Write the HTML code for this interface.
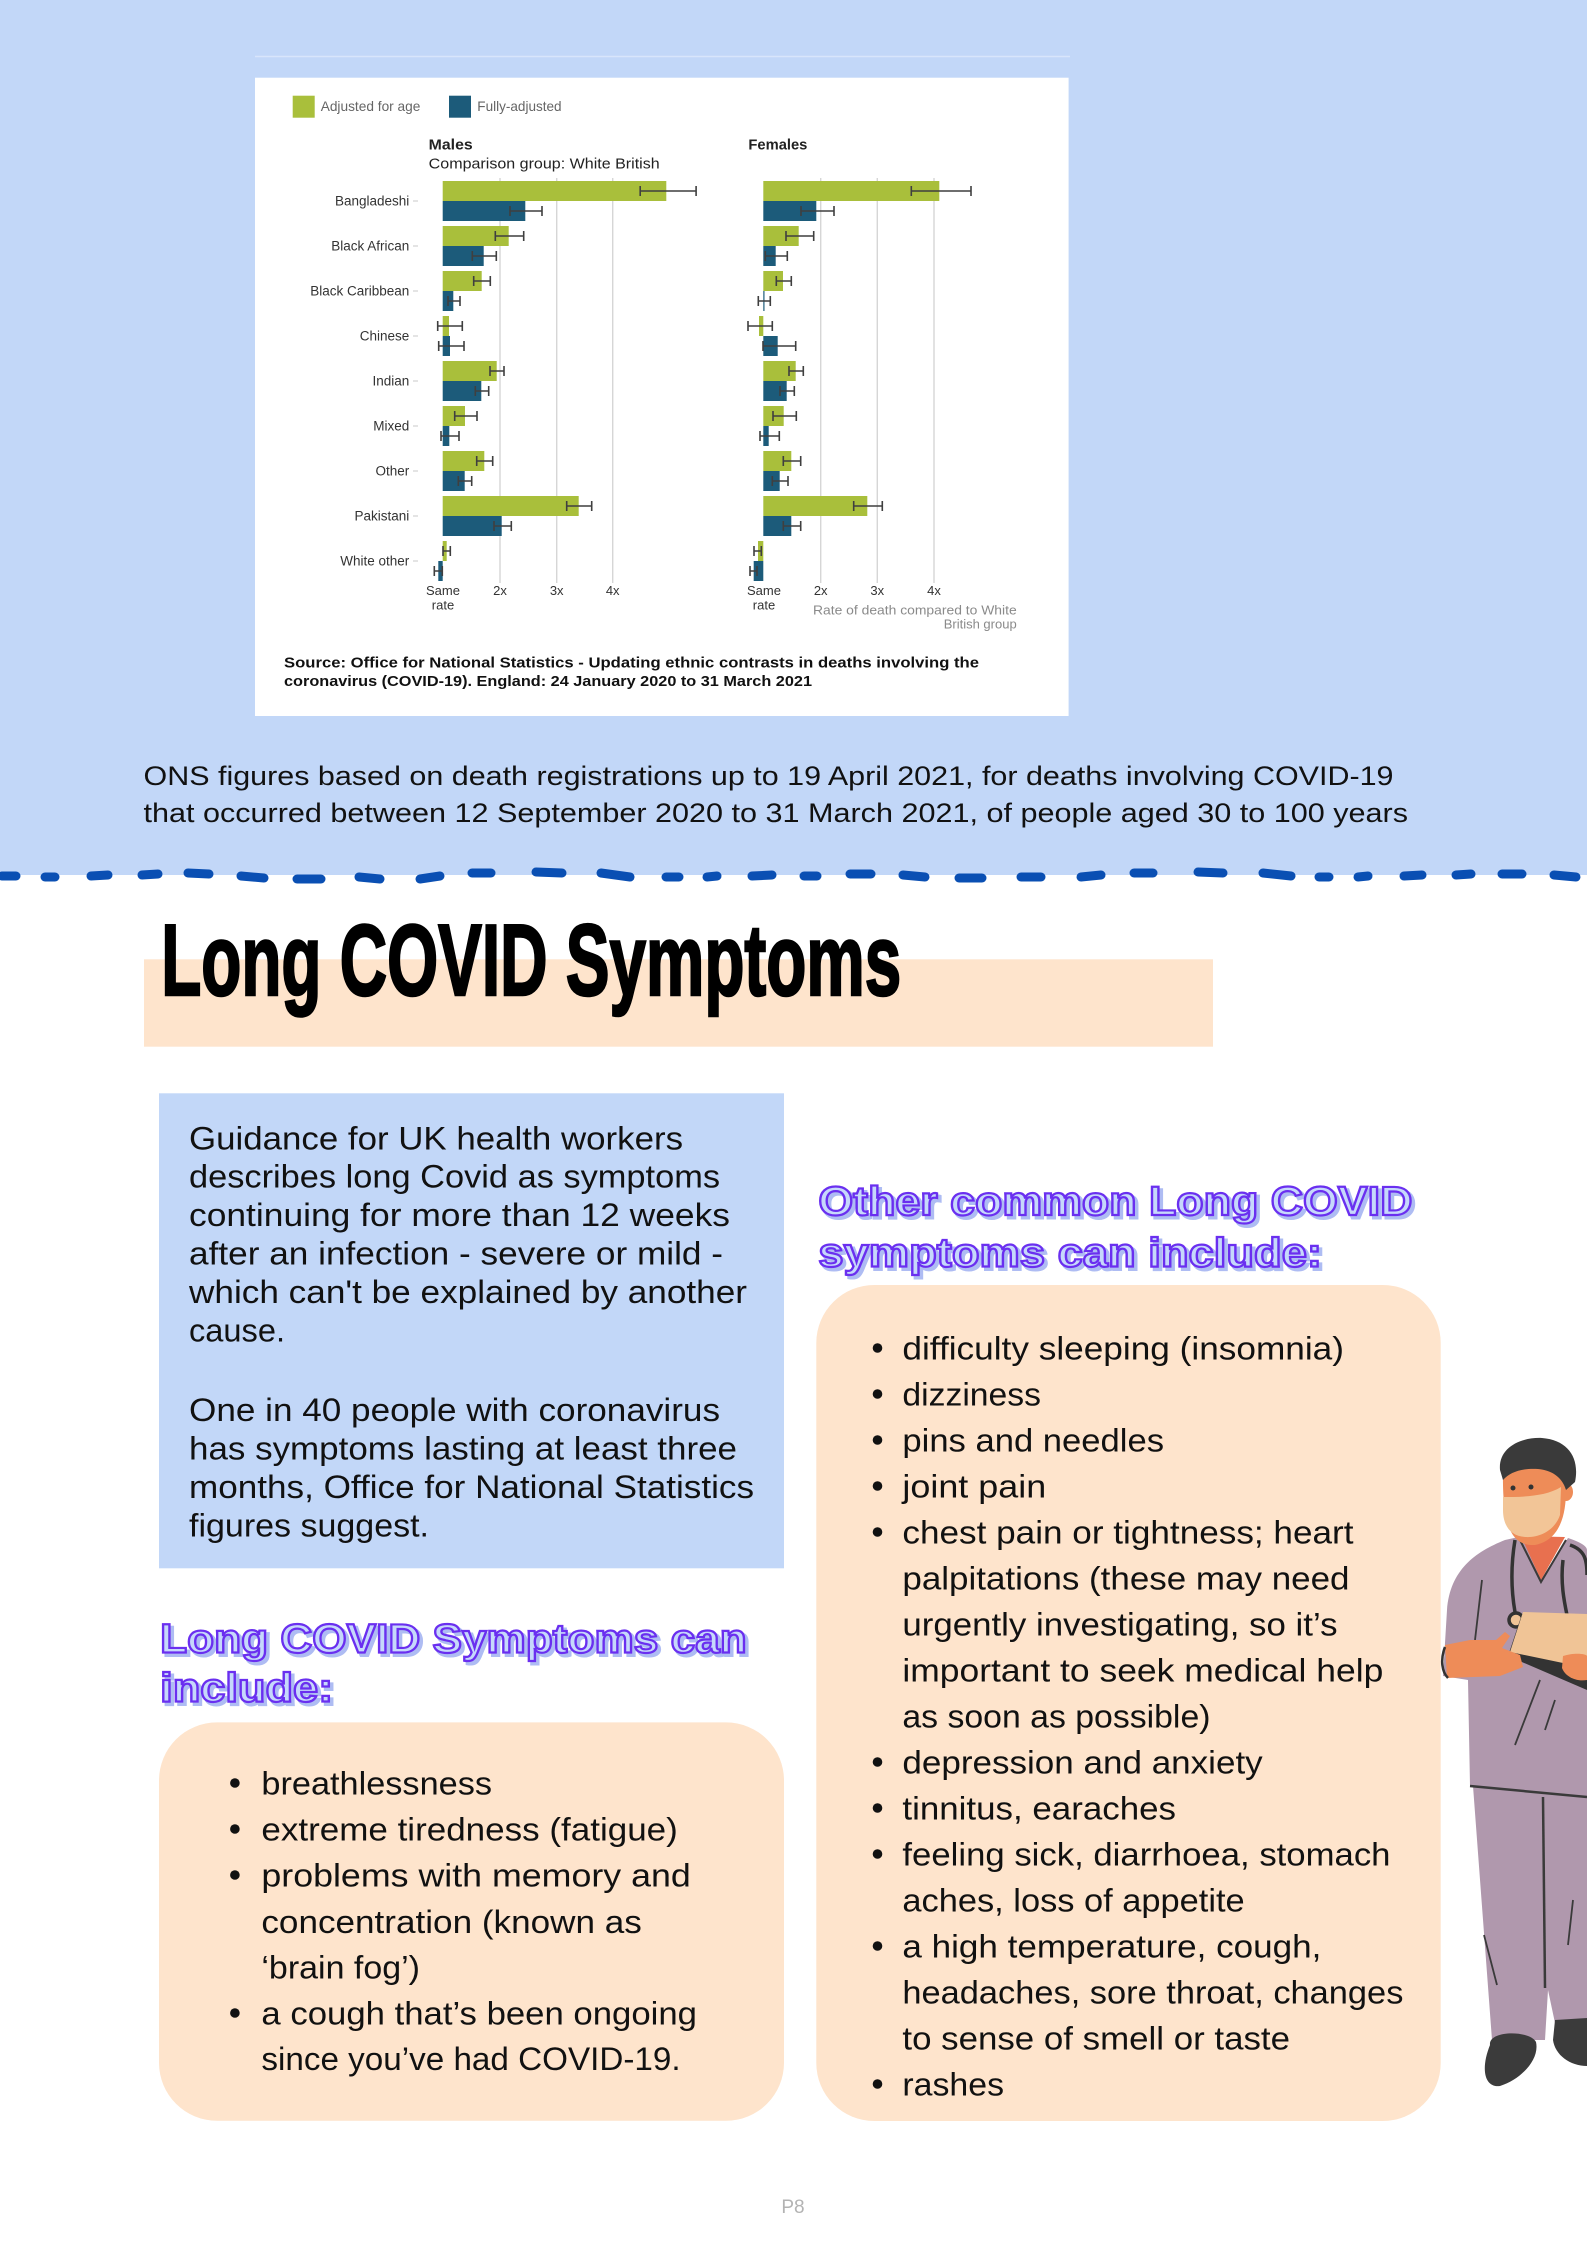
<!DOCTYPE html>
<html><head><meta charset="utf-8"><style>
html,body{margin:0;padding:0;background:#fff;}
svg{display:block;}
text{font-family:"Liberation Sans",sans-serif;}
</style></head><body>
<svg width="1587" height="2245" viewBox="0 0 1587 2245" xmlns="http://www.w3.org/2000/svg">
<!-- top blue area -->
<rect x="0" y="0" width="1587" height="875" fill="#c2d7f8"/>
<line x1="255" y1="56.5" x2="1070" y2="56.5" stroke="#d8e5fb" stroke-width="1.5"/>
<rect x="255" y="77.7" width="813.6" height="638.3" fill="#fff"/>

<!-- legend -->
<rect x="292.7" y="95.7" width="22" height="22" fill="#a9bf3b"/>
<text x="320.7" y="111" font-size="14" fill="#666" textLength="99.7" lengthAdjust="spacingAndGlyphs">Adjusted for age</text>
<rect x="449" y="95.7" width="22" height="22" fill="#1c5b7a"/>
<text x="477.3" y="111" font-size="14" fill="#666" textLength="84.3" lengthAdjust="spacingAndGlyphs">Fully-adjusted</text>

<text x="428.7" y="149.3" font-size="15" font-weight="bold" fill="#222" textLength="44" lengthAdjust="spacingAndGlyphs">Males</text>
<text x="428.7" y="168.3" font-size="15" fill="#222" textLength="231" lengthAdjust="spacingAndGlyphs">Comparison group: White British</text>
<text x="748.4" y="149.3" font-size="15" font-weight="bold" fill="#222" textLength="59" lengthAdjust="spacingAndGlyphs">Females</text>

<!-- gridlines -->
<g stroke="#d6d6d6" stroke-width="1.4">
<line x1="500" y1="178" x2="500" y2="583"/><line x1="556.7" y1="178" x2="556.7" y2="583"/><line x1="612.7" y1="178" x2="612.7" y2="583"/>
<line x1="820.7" y1="178" x2="820.7" y2="583"/><line x1="877.3" y1="178" x2="877.3" y2="583"/><line x1="934" y1="178" x2="934" y2="583"/>
</g>

<!-- category labels -->
<g font-size="13.5" fill="#333" text-anchor="end">
<text x="409.3" y="205.7">Bangladeshi</text>
<text x="409.3" y="250.7">Black African</text>
<text x="409.3" y="295.7">Black Caribbean</text>
<text x="409.3" y="340.7">Chinese</text>
<text x="409.3" y="385.7">Indian</text>
<text x="409.3" y="430.7">Mixed</text>
<text x="409.3" y="475.7">Other</text>
<text x="409.3" y="520.7">Pakistani</text>
<text x="409.3" y="565.7">White other</text>
</g>
<g stroke="#c8c8c8" stroke-width="1">
<line x1="413" y1="201" x2="418" y2="201"/><line x1="413" y1="246" x2="418" y2="246"/><line x1="413" y1="291" x2="418" y2="291"/>
<line x1="413" y1="336" x2="418" y2="336"/><line x1="413" y1="381" x2="418" y2="381"/><line x1="413" y1="426" x2="418" y2="426"/>
<line x1="413" y1="471" x2="418" y2="471"/><line x1="413" y1="516" x2="418" y2="516"/><line x1="413" y1="561" x2="418" y2="561"/>
</g>

<!-- male bars -->
<g fill="#a9bf3b">
<rect x="442.7" y="181" width="223.6" height="20"/>
<rect x="442.7" y="226" width="66" height="20"/>
<rect x="442.7" y="271" width="39" height="20"/>
<rect x="442.7" y="316" width="6.3" height="20"/>
<rect x="442.7" y="361" width="54" height="20"/>
<rect x="442.7" y="406" width="22.3" height="20"/>
<rect x="442.7" y="451" width="41.6" height="20"/>
<rect x="442.7" y="496" width="136" height="20"/>
<rect x="442.7" y="541" width="4" height="20"/>
</g>
<g fill="#1c5b7a">
<rect x="442.7" y="201" width="82.6" height="20"/>
<rect x="442.7" y="246" width="41" height="20"/>
<rect x="442.7" y="291" width="10.6" height="20"/>
<rect x="442.7" y="336" width="7.3" height="20"/>
<rect x="442.7" y="381" width="38.6" height="20"/>
<rect x="442.7" y="426" width="6.6" height="20"/>
<rect x="442.7" y="471" width="22" height="20"/>
<rect x="442.7" y="516" width="59" height="20"/>
<rect x="438.3" y="561" width="4.4" height="20"/>
</g>
<!-- female bars -->
<g fill="#a9bf3b">
<rect x="763.3" y="181" width="176" height="20"/>
<rect x="763.3" y="226" width="35.4" height="20"/>
<rect x="763.3" y="271" width="19.7" height="20"/>
<rect x="759" y="316" width="4.3" height="20"/>
<rect x="763.3" y="361" width="32.4" height="20"/>
<rect x="763.3" y="406" width="20.4" height="20"/>
<rect x="763.3" y="451" width="28" height="20"/>
<rect x="763.3" y="496" width="104" height="20"/>
<rect x="758" y="541" width="5.3" height="20"/>
</g>
<g fill="#1c5b7a">
<rect x="763.3" y="201" width="53" height="20"/>
<rect x="763.3" y="246" width="12.4" height="20"/>
<rect x="763.3" y="291" width="1.2" height="20"/>
<rect x="763.3" y="336" width="14.4" height="20"/>
<rect x="763.3" y="381" width="23.4" height="20"/>
<rect x="763.3" y="426" width="5.4" height="20"/>
<rect x="763.3" y="471" width="16.4" height="20"/>
<rect x="763.3" y="516" width="28" height="20"/>
<rect x="753.7" y="561" width="9.6" height="20"/>
</g>

<!-- error bars -->
<g stroke="#3f3f3f" stroke-width="1.6" fill="none">
<path d="M640.2 191H696.1M640.2 186V196M696.1 186V196"/>
<path d="M510 211H542M510 206V216M542 206V216"/>
<path d="M495.3 236H523.7M495.3 231V241M523.7 231V241"/>
<path d="M472.3 256H496.3M472.3 251V261M496.3 251V261"/>
<path d="M473.7 281H490.3M473.7 276V286M490.3 276V286"/>
<path d="M448 301H460M448 296V306M460 296V306"/>
<path d="M437.7 326H462.3M437.7 321V331M462.3 321V331"/>
<path d="M438.7 346H464M438.7 341V351M464 341V351"/>
<path d="M490 371H504M490 366V376M504 366V376"/>
<path d="M475.3 391H488.7M475.3 386V396M488.7 386V396"/>
<path d="M454.7 416H477M454.7 411V421M477 411V421"/>
<path d="M441 436H459M441 431V441M459 431V441"/>
<path d="M476.7 461H492.7M476.7 456V466M492.7 456V466"/>
<path d="M458.3 481H471.7M458.3 476V486M471.7 476V486"/>
<path d="M566.7 506H591.7M566.7 501V511M591.7 501V511"/>
<path d="M494 526H511.3M494 521V531M511.3 521V531"/>
<path d="M443 551H450.3M443 546V556M450.3 546V556"/>
<path d="M434.3 571H442.3M434.3 566V576M442.3 566V576"/>

<path d="M911.3 191H971M911.3 186V196M971 186V196"/>
<path d="M801 211H834M801 206V216M834 206V216"/>
<path d="M786 236H813.7M786 231V241M813.7 231V241"/>
<path d="M765.3 256H787.3M765.3 251V261M787.3 251V261"/>
<path d="M776.3 281H791.3M776.3 276V286M791.3 276V286"/>
<path d="M758.3 301H770.3M758.3 296V306M770.3 296V306"/>
<path d="M748 326H772.3M748 321V331M772.3 321V331"/>
<path d="M763 346H795.7M763 341V351M795.7 341V351"/>
<path d="M789 371H803.3M789 366V376M803.3 366V376"/>
<path d="M780 391H794.3M780 386V396M794.3 386V396"/>
<path d="M773 416H796.3M773 411V421M796.3 411V421"/>
<path d="M760 436H779.3M760 431V441M779.3 431V441"/>
<path d="M783.3 461H800.7M783.3 456V466M800.7 456V466"/>
<path d="M772.3 481H788M772.3 476V486M788 476V486"/>
<path d="M853.7 506H882.3M853.7 501V511M882.3 501V511"/>
<path d="M783.3 526H800.7M783.3 521V531M800.7 521V531"/>
<path d="M754 551H761.3M754 546V556M761.3 546V556"/>
<path d="M750 571H757M750 566V576M757 566V576"/>
</g>

<!-- axis tick labels -->
<g font-size="13" fill="#333" text-anchor="middle">
<text x="443" y="595">Same</text><text x="443" y="609.5">rate</text>
<text x="500" y="595">2x</text><text x="556.7" y="595">3x</text><text x="612.7" y="595">4x</text>
<text x="764" y="595">Same</text><text x="764" y="609.5">rate</text>
<text x="820.7" y="595">2x</text><text x="877.3" y="595">3x</text><text x="934" y="595">4x</text>
</g>
<text x="1016.7" y="614.3" font-size="13" fill="#8a8a8a" text-anchor="end" textLength="203.7" lengthAdjust="spacingAndGlyphs">Rate of death compared to White</text>
<text x="1016.7" y="628.5" font-size="13" fill="#8a8a8a" text-anchor="end">British group</text>

<text x="284" y="667.3" font-size="14.5" font-weight="bold" fill="#111" textLength="695" lengthAdjust="spacingAndGlyphs">Source: Office for National Statistics - Updating ethnic contrasts in deaths involving the</text>
<text x="284" y="686" font-size="14.5" font-weight="bold" fill="#111" textLength="528" lengthAdjust="spacingAndGlyphs">coronavirus (COVID-19). England: 24 January 2020 to 31 March 2021</text>

<!-- ONS text -->
<text x="143.5" y="785" font-size="27" fill="#111" textLength="1250" lengthAdjust="spacingAndGlyphs">ONS figures based on death registrations up to 19 April 2021, for deaths involving COVID-19</text>
<text x="143.5" y="822" font-size="27" fill="#111" textLength="1264.5" lengthAdjust="spacingAndGlyphs">that occurred between 12 September 2020 to 31 March 2021, of people aged 30 to 100 years</text>

<!-- dashed divider -->
<g stroke="#0a4fb3" stroke-width="9" stroke-linecap="round">
<line x1="2" y1="876" x2="16" y2="876"/><line x1="45" y1="877" x2="55" y2="877"/><line x1="91" y1="876" x2="108" y2="875"/>
<line x1="142" y1="875" x2="158" y2="874"/><line x1="188" y1="873" x2="209" y2="874"/><line x1="241" y1="876" x2="264" y2="878"/>
<line x1="297" y1="879" x2="321" y2="879"/><line x1="359" y1="877" x2="380" y2="879"/><line x1="420" y1="879" x2="440" y2="876"/>
<line x1="472" y1="873" x2="491" y2="873"/><line x1="536" y1="872" x2="562" y2="873"/><line x1="601" y1="873" x2="630" y2="877"/>
<line x1="666" y1="877" x2="679" y2="877"/><line x1="707" y1="877" x2="717" y2="876"/><line x1="752" y1="876" x2="772" y2="875"/>
<line x1="804" y1="876" x2="817" y2="876"/><line x1="850" y1="874" x2="871" y2="874"/><line x1="903" y1="875" x2="925" y2="877"/>
<line x1="959" y1="878" x2="982" y2="878"/><line x1="1021" y1="877" x2="1041" y2="877"/><line x1="1081" y1="877" x2="1101" y2="875"/>
<line x1="1134" y1="873" x2="1153" y2="873"/><line x1="1198" y1="872" x2="1223" y2="873"/><line x1="1263" y1="873" x2="1291" y2="876"/>
<line x1="1319" y1="877" x2="1329" y2="877"/><line x1="1358" y1="877" x2="1368" y2="876"/><line x1="1404" y1="876" x2="1422" y2="875"/>
<line x1="1456" y1="875" x2="1471" y2="874"/><line x1="1502" y1="874" x2="1522" y2="874"/><line x1="1554" y1="875" x2="1576" y2="877"/>
</g>

<!-- main heading -->
<rect x="144" y="959.3" width="1069" height="87.4" fill="#fee4cc"/>
<text x="161.2" y="995" font-size="101" font-weight="bold" fill="#000" stroke="#000" stroke-width="2.5" style='font-family:"Liberation Sans Narrow","Liberation Sans",sans-serif' textLength="740" lengthAdjust="spacingAndGlyphs">Long COVID Symptoms</text>

<!-- blue guidance box -->
<rect x="159" y="1093.3" width="625" height="475" fill="#c2d7f8"/>
<g font-size="32" fill="#111">
<text x="189" y="1149.3" textLength="494" lengthAdjust="spacingAndGlyphs">Guidance for UK health workers</text>
<text x="189" y="1187.7" textLength="531" lengthAdjust="spacingAndGlyphs">describes long Covid as symptoms</text>
<text x="189" y="1226" textLength="541" lengthAdjust="spacingAndGlyphs">continuing for more than 12 weeks</text>
<text x="189" y="1264.5" textLength="534" lengthAdjust="spacingAndGlyphs">after an infection - severe or mild -</text>
<text x="189" y="1303" textLength="558" lengthAdjust="spacingAndGlyphs">which can't be explained by another</text>
<text x="189" y="1341.3" textLength="96" lengthAdjust="spacingAndGlyphs">cause.</text>
<text x="189" y="1421" textLength="531" lengthAdjust="spacingAndGlyphs">One in 40 people with coronavirus</text>
<text x="189" y="1459.5" textLength="548" lengthAdjust="spacingAndGlyphs">has symptoms lasting at least three</text>
<text x="189" y="1498" textLength="565" lengthAdjust="spacingAndGlyphs">months, Office for National Statistics</text>
<text x="189" y="1536.5" textLength="240" lengthAdjust="spacingAndGlyphs">figures suggest.</text>
</g>

<!-- purple headings -->
<g font-size="41" font-weight="bold" fill="#aebcf3" stroke="#aebcf3" stroke-width="3" transform="translate(3,3)">
<text x="818.4" y="1215" textLength="594" lengthAdjust="spacingAndGlyphs">Other common Long COVID</text>
<text x="818.4" y="1266.7" textLength="503.6" lengthAdjust="spacingAndGlyphs">symptoms can include:</text>
<text x="160.2" y="1652.4" textLength="586.5" lengthAdjust="spacingAndGlyphs">Long COVID Symptoms can</text>
<text x="160.2" y="1701.4" textLength="173" lengthAdjust="spacingAndGlyphs">include:</text>
</g>
<g font-size="41" font-weight="bold" fill="#c6d8fb" stroke="#6a2ff0" stroke-width="2.2">
<text x="818.4" y="1215" textLength="594" lengthAdjust="spacingAndGlyphs">Other common Long COVID</text>
<text x="818.4" y="1266.7" textLength="503.6" lengthAdjust="spacingAndGlyphs">symptoms can include:</text>
<text x="160.2" y="1652.4" textLength="586.5" lengthAdjust="spacingAndGlyphs">Long COVID Symptoms can</text>
<text x="160.2" y="1701.4" textLength="173" lengthAdjust="spacingAndGlyphs">include:</text>
</g>

<!-- peach boxes -->
<rect x="816.3" y="1285" width="624.4" height="836" rx="58" ry="58" fill="#fee4cc"/>
<rect x="159" y="1722.4" width="625" height="398.4" rx="58" ry="58" fill="#fee4cc"/>

<!-- right list -->
<g fill="#111">
<circle cx="877.5" cy="1348" r="4.8"/><circle cx="877.5" cy="1394" r="4.8"/><circle cx="877.5" cy="1440" r="4.8"/>
<circle cx="877.5" cy="1486" r="4.8"/><circle cx="877.5" cy="1532" r="4.8"/><circle cx="877.5" cy="1762" r="4.8"/>
<circle cx="877.5" cy="1808" r="4.8"/><circle cx="877.5" cy="1854" r="4.8"/><circle cx="877.5" cy="1946" r="4.8"/>
<circle cx="877.5" cy="2084" r="4.8"/>
<circle cx="234.9" cy="1783" r="4.8"/><circle cx="234.9" cy="1829" r="4.8"/><circle cx="234.9" cy="1875" r="4.8"/>
<circle cx="234.9" cy="2013" r="4.8"/>
</g>
<g font-size="32" fill="#111">
<text x="902.4" y="1359.3" textLength="441.6" lengthAdjust="spacingAndGlyphs">difficulty sleeping (insomnia)</text>
<text x="902.4" y="1405.3" textLength="138.6" lengthAdjust="spacingAndGlyphs">dizziness</text>
<text x="902.4" y="1451.3" textLength="261.6" lengthAdjust="spacingAndGlyphs">pins and needles</text>
<text x="902.4" y="1497.3" textLength="143.8" lengthAdjust="spacingAndGlyphs">joint pain</text>
<text x="902.4" y="1543.3" textLength="451.1" lengthAdjust="spacingAndGlyphs">chest pain or tightness; heart</text>
<text x="902.4" y="1589.3" textLength="447.1" lengthAdjust="spacingAndGlyphs">palpitations (these may need</text>
<text x="902.4" y="1635.3" textLength="435.1" lengthAdjust="spacingAndGlyphs">urgently investigating, so it’s</text>
<text x="902.4" y="1681.3" textLength="480.9" lengthAdjust="spacingAndGlyphs">important to seek medical help</text>
<text x="902.4" y="1727.3" textLength="308.1" lengthAdjust="spacingAndGlyphs">as soon as possible)</text>
<text x="902.4" y="1773.3" textLength="360.3" lengthAdjust="spacingAndGlyphs">depression and anxiety</text>
<text x="902.4" y="1819.3" textLength="273.6" lengthAdjust="spacingAndGlyphs">tinnitus, earaches</text>
<text x="902.4" y="1865.3" textLength="488.1" lengthAdjust="spacingAndGlyphs">feeling sick, diarrhoea, stomach</text>
<text x="902.4" y="1911.3" textLength="342.3" lengthAdjust="spacingAndGlyphs">aches, loss of appetite</text>
<text x="902.4" y="1957.3" textLength="419" lengthAdjust="spacingAndGlyphs">a high temperature, cough,</text>
<text x="902.4" y="2003.3" textLength="501" lengthAdjust="spacingAndGlyphs">headaches, sore throat, changes</text>
<text x="902.4" y="2049.3" textLength="387.6" lengthAdjust="spacingAndGlyphs">to sense of smell or taste</text>
<text x="902.4" y="2095.3" textLength="101.6" lengthAdjust="spacingAndGlyphs">rashes</text>
</g>
<!-- left list -->
<g font-size="32" fill="#111">
<text x="261.4" y="1794.4" textLength="230.6" lengthAdjust="spacingAndGlyphs">breathlessness</text>
<text x="261.4" y="1840.7" textLength="416.4" lengthAdjust="spacingAndGlyphs">extreme tiredness (fatigue)</text>
<text x="261.4" y="1886.7" textLength="429.4" lengthAdjust="spacingAndGlyphs">problems with memory and</text>
<text x="261.4" y="1933" textLength="380.4" lengthAdjust="spacingAndGlyphs">concentration (known as</text>
<text x="261.4" y="1978.6" textLength="158.6" lengthAdjust="spacingAndGlyphs">‘brain fog’)</text>
<text x="261.4" y="2024.3" textLength="435.6" lengthAdjust="spacingAndGlyphs">a cough that’s been ongoing</text>
<text x="261.4" y="2070" textLength="419.2" lengthAdjust="spacingAndGlyphs">since you’ve had COVID-19.</text>
</g>

<!-- nurse illustration -->
<g>
<!-- pants -->
<path d="M1473 1786 L1587 1797 L1587 2023 L1555 2023 L1548 1990 L1545 2040 L1492 2040 Z" fill="#b098ad"/>
<path d="M1543 1797 L1545 1988" stroke="#3a3a3a" stroke-width="2.5" fill="none"/>
<path d="M1484 1935 L1497 1985 M1573 1900 L1568 1945" stroke="#3a3a3a" stroke-width="1.8" fill="none"/>
<!-- shoes -->
<path d="M1490 2045 C1488 2030 1530 2030 1536 2042 C1540 2060 1520 2080 1500 2086 C1485 2088 1480 2070 1490 2045 Z" fill="#3b3b3b"/>
<path d="M1555 2020 L1587 2018 L1587 2066 C1570 2066 1555 2055 1553 2040 Z" fill="#3b3b3b"/>
<!-- shirt -->
<path d="M1443 1676 L1447 1610 C1450 1570 1475 1552 1505 1540 L1523 1536 L1541 1579 L1568 1538 C1580 1542 1587 1546 1587 1550 L1587 1797 L1470 1786 L1468 1680 Z" fill="#b098ad"/>
<path d="M1470 1786 L1587 1797" stroke="#3a3a3a" stroke-width="2.5" fill="none"/>
<path d="M1482 1580 L1475 1640 M1540 1680 L1515 1745 M1555 1700 L1545 1730" stroke="#3a3a3a" stroke-width="1.8" fill="none"/>
<!-- neck -->
<path d="M1521 1536 L1565 1537 L1541 1580 Z" fill="#e8704f"/>
<path d="M1519 1538 L1541 1582 L1566 1540" stroke="#3a3a3a" stroke-width="2" fill="none"/>
<!-- stethoscope -->
<path d="M1515 1540 C1510 1570 1512 1595 1515 1612 M1570 1545 C1585 1550 1587 1560 1587 1575 M1563 1560 C1560 1585 1565 1605 1568 1620" stroke="#333" stroke-width="3.5" fill="none"/>
<circle cx="1516" cy="1620" r="7" fill="#f0c496" stroke="#333" stroke-width="3.5"/>
<!-- clipboard -->
<path d="M1508 1656 L1522 1614 L1587 1616 L1587 1690 Z" fill="#333"/>
<path d="M1510 1652 L1523 1612 L1587 1614 L1587 1668 Z" fill="#f0c496"/>
<!-- hands -->
<path d="M1445 1645 L1470 1640 L1496 1640 L1505 1632 L1510 1636 L1502 1648 L1520 1655 L1523 1667 L1500 1676 L1447 1678 Z" fill="#ee8c58"/>
<path d="M1445 1647 C1440 1660 1442 1672 1448 1678" stroke="#333" stroke-width="2.5" fill="none"/>
<path d="M1563 1656 C1575 1652 1587 1654 1587 1656 L1587 1680 C1575 1682 1565 1676 1562 1668 Z" fill="#ee8c58"/>
<!-- head -->
<path d="M1503 1470 C1503 1455 1520 1448 1540 1450 C1560 1452 1567 1468 1566 1490 C1566 1515 1560 1540 1535 1545 C1512 1546 1502 1528 1503 1470 Z" fill="#ee8c58"/>
<ellipse cx="1566" cy="1492" rx="7" ry="9" fill="#ee8c58"/>
<path d="M1500 1470 C1498 1448 1520 1437 1542 1438 C1568 1440 1580 1458 1575 1482 L1566 1490 C1562 1476 1550 1470 1538 1469 C1522 1468 1510 1472 1503 1480 Z" fill="#3a3a3a"/>
<path d="M1503 1497 C1520 1497 1545 1497 1561 1487 L1560 1515 C1555 1530 1540 1538 1525 1537 C1510 1536 1503 1525 1503 1510 Z" fill="#f2c597"/>
<circle cx="1513" cy="1488" r="2.5" fill="#333"/><circle cx="1531" cy="1487" r="2.5" fill="#333"/>
</g>

<text x="793" y="2213" font-size="19" fill="#b3b3b3" text-anchor="middle">P8</text>
</svg>
</body></html>
